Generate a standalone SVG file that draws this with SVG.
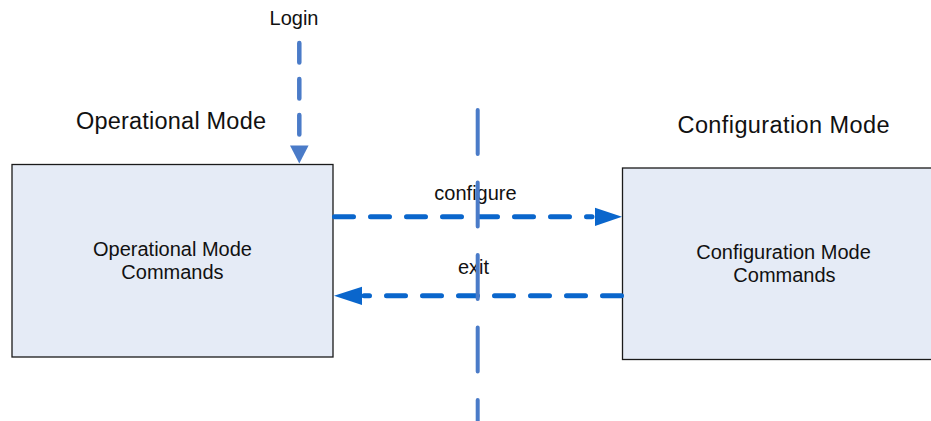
<svg xmlns="http://www.w3.org/2000/svg" width="931" height="421" viewBox="0 0 931 421">
  <style>
    .box { fill: #E5EBF6; stroke: #1a1a1a; stroke-width: 1.3; }
    .t { font-family: "Liberation Sans", Arial, sans-serif; fill: #111; text-anchor: middle; }
    .lbl { font-size: 20px; }
    .title { font-size: 23.5px; }
    .dashH { fill: none; stroke: #0A66CC; stroke-width: 5; stroke-linecap: round; stroke-dasharray: 19 17; }
    .dashL { fill: none; stroke: #4A7BC8; stroke-width: 4.5; stroke-linecap: round; stroke-dasharray: 19.5 16.5; }
    .dashV { fill: none; stroke: #4A7BC8; stroke-width: 4; stroke-linecap: round; stroke-dasharray: 44 28.5; }
    .headH { fill: #0A66CC; }
    .headL { fill: #4A7BC8; }
  </style>
  <rect width="931" height="421" fill="#ffffff"/>
  <g id="title-operational">
    <text class="t title" x="171" y="128.5" textLength="190" lengthAdjust="spacing">Operational Mode</text>
  </g>
  <g id="title-configuration">
    <text class="t title" x="783.5" y="133" textLength="212" lengthAdjust="spacing">Configuration Mode</text>
  </g>
  <g id="node-operational">
    <rect class="box" x="12" y="164.5" width="321" height="192.5"/>
    <text class="t lbl" x="172.5" y="256">Operational Mode</text>
    <text class="t lbl" x="172.5" y="279">Commands</text>
  </g>
  <g id="node-configuration">
    <rect class="box" x="622.5" y="168" width="330" height="191.5"/>
    <text class="t lbl" x="783.5" y="259">Configuration Mode</text>
    <text class="t lbl" x="784.5" y="282">Commands</text>
  </g>
  <g id="connectors">
    <g id="login">
      <text class="t lbl" x="294" y="25">Login</text>
      <path class="dashL" d="M299.3,43 L299.3,140"/>
      <polygon class="headL" points="290,145.5 308.6,145.5 299.3,163.5"/>
    </g>
    <g id="configure">
      <text class="t lbl" x="475.5" y="200">configure</text>
      <path class="dashH" d="M334.5,216.7 L592,216.7"/>
      <polygon class="headH" points="595,207.7 622,216.7 595,226"/>
    </g>
    <g id="exit">
      <text class="t lbl" x="473.5" y="274">exit</text>
      <path class="dashH" d="M621.5,295.7 L364,295.7"/>
      <polygon class="headH" points="362,286.7 334,295.7 362,305"/>
    </g>
    <g id="boundary">
      <path class="dashV" d="M477.7,110 L477.7,440"/>
    </g>
  </g>
</svg>
